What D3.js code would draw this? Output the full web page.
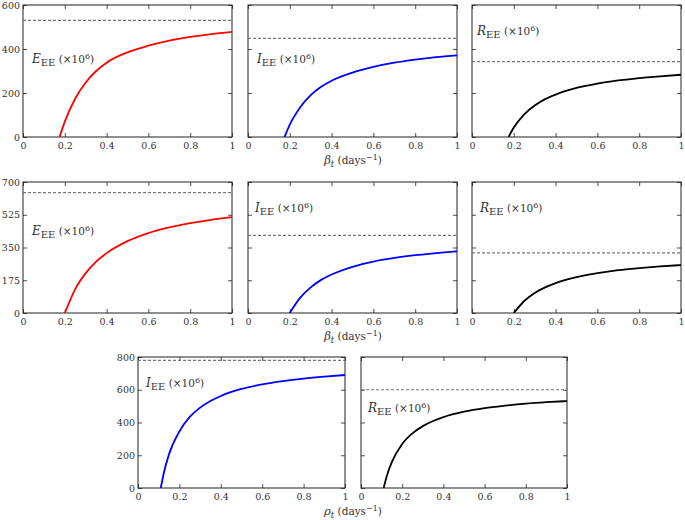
<!DOCTYPE html>
<html>
<head>
<meta charset="utf-8">
<script src="https://cdn.jsdelivr.net/npm/d3@7"></script>
<style>
  body { margin: 0; background: #fff; }
  svg text { font-family: "DejaVu Serif", serif; fill: #333; }
</style>
</head>
<body>
<svg width="685" height="520"></svg>
<script>
const svg = d3.select("svg");

// ---- data ----
const xTicks = [0, 0.2, 0.4, 0.6, 0.8, 1];
const yTicksTop = [0, 200, 400, 600];
const yTicksMid = [0, 175, 350, 525, 700];
const yTicksBot = [0, 200, 400, 600, 800];

// row 1 (beta_t)
const betaTop = [0.175, 0.2, 0.25, 0.3, 0.35, 0.4, 0.5, 0.6, 0.7, 0.8, 0.9, 1];
const eTop = [0, 70, 175, 248, 300, 338, 385, 415, 438, 455, 468, 478];
const iTop = [0, 56, 135, 190, 228, 256, 293, 319, 338, 352, 363, 371];
const rTop = [0, 43, 103, 143, 172, 193, 223, 243, 257, 268, 276, 283];
const eqTop = [530, 448, 343];

// row 2 (beta_t)
const betaMid = [0.2, 0.25, 0.3, 0.35, 0.4, 0.5, 0.6, 0.7, 0.8, 0.9, 1];
const eMid = [0, 128, 213, 274, 320, 384, 427, 457, 480, 498, 512];
const iMid = [0, 82, 137, 177, 206, 247, 275, 294, 309, 320, 330];
const rMid = [0, 64, 107, 137, 160, 192, 213, 229, 240, 249, 256];
const eqMid = [643, 415, 321];

// row 3 (rho_t)
const rhoBot = [0.11, 0.125, 0.15, 0.2, 0.25, 0.3, 0.35, 0.4, 0.5, 0.6, 0.7, 0.8, 0.9, 1];
const iBot = [0, 93, 207, 345, 434, 491, 531, 562, 605, 633, 653, 668, 680, 690];
const rBot = [0, 72, 159, 269, 334, 378, 409, 433, 466, 488, 503, 515, 524, 531];
const eqBot = [780, 600];

// ---- layout ----
const rows = [
  { top: 5, bottom: 137, ymax: 600, yTicks: yTicksTop, xs: betaTop, xlab: "β", xlabY: 164 },
  { top: 182, bottom: 313, ymax: 700, yTicks: yTicksMid, xs: betaMid, xlab: "β", xlabY: 340 },
  { top: 357, bottom: 488, ymax: 800, yTicks: yTicksBot, xs: rhoBot, xlab: "ρ", xlabY: 515 }
];

const panels = [
  { row: 0, x0: 23, x1: 232, ys: eTop, eq: eqTop[0], color: "#ff0000", sym: "E", lx: 9, ly: 58, yLabels: true },
  { row: 0, x0: 248, x1: 457, ys: iTop, eq: eqTop[1], color: "#0000ff", sym: "I", lx: 9, ly: 58 },
  { row: 0, x0: 472, x1: 681, ys: rTop, eq: eqTop[2], color: "#000000", sym: "R", lx: 5, ly: 30 },
  { row: 1, x0: 23, x1: 232, ys: eMid, eq: eqMid[0], color: "#ff0000", sym: "E", lx: 9, ly: 53, yLabels: true },
  { row: 1, x0: 248, x1: 457, ys: iMid, eq: eqMid[1], color: "#0000ff", sym: "I", lx: 7, ly: 30 },
  { row: 1, x0: 472, x1: 681, ys: rMid, eq: eqMid[2], color: "#000000", sym: "R", lx: 8, ly: 30 },
  { row: 2, x0: 138, x1: 345, ys: iBot, eq: eqBot[0], color: "#0000ff", sym: "I", lx: 8, ly: 30, yLabels: true },
  { row: 2, x0: 361, x1: 567, ys: rBot, eq: eqBot[1], color: "#000000", sym: "R", lx: 7, ly: 55 }
];

panels.forEach((p, k) => {
  const r = rows[p.row];
  const x = d3.scaleLinear().domain([0, 1]).range([p.x0, p.x1]);
  const y = d3.scaleLinear().domain([0, r.ymax]).range([r.bottom, r.top]);
  const g = svg.append("g");

  // inward ticks on all sides
  const tick = 4;
  const axes = [
    d3.axisBottom(x).tickValues(xTicks).tickSizeInner(-tick).tickSizeOuter(0)
      .tickFormat(d3.format("~g")).tickPadding(5),
    d3.axisTop(x).tickValues(xTicks).tickSizeInner(-tick).tickSizeOuter(0).tickFormat(""),
    d3.axisLeft(y).tickValues(r.yTicks).tickSizeInner(-tick).tickSizeOuter(0)
      .tickFormat(p.yLabels ? d3.format("d") : "").tickPadding(3),
    d3.axisRight(y).tickValues(r.yTicks).tickSizeInner(-tick).tickSizeOuter(0).tickFormat("")
  ];
  const pos = [`translate(0,${r.bottom})`, `translate(0,${r.top})`,
               `translate(${p.x0},0)`, `translate(${p.x1},0)`];
  axes.forEach((a, i) => {
    const ag = g.append("g").attr("transform", pos[i]).call(a);
    ag.select(".domain").remove();
    ag.selectAll("line").attr("stroke", "#222").attr("stroke-width", 0.8);
    ag.selectAll("text").style("font-family", "DejaVu Serif").style("font-size", "9.5px")
      .attr("fill", "#333");
  });

  g.append("rect")
    .attr("x", p.x0).attr("y", r.top)
    .attr("width", p.x1 - p.x0).attr("height", r.bottom - r.top)
    .attr("fill", "none").attr("stroke", "#222").attr("stroke-width", 1);

  // equilibrium (dashed)
  g.append("line")
    .attr("x1", x(0)).attr("x2", x(1))
    .attr("y1", y(p.eq)).attr("y2", y(p.eq))
    .attr("stroke", "#777").attr("stroke-width", 1.2)
    .attr("stroke-dasharray", "3,2");

  const clipId = "clip" + k;
  g.append("clipPath").attr("id", clipId).append("rect")
    .attr("x", p.x0).attr("y", r.top)
    .attr("width", p.x1 - p.x0).attr("height", r.bottom - r.top);

  const line = d3.line()
    .x((d, i) => x(r.xs[i]))
    .y(d => y(d))
    .curve(d3.curveMonotoneX);

  g.append("path")
    .datum(p.ys)
    .attr("clip-path", `url(#${clipId})`)
    .attr("d", line)
    .attr("fill", "none")
    .attr("stroke", p.color)
    .attr("stroke-width", 1.8);

  // variable label
  const t = g.append("text")
    .attr("x", p.x0 + p.lx).attr("y", r.top + p.ly);
  t.append("tspan").text(p.sym).style("font-style", "italic").style("font-size", "12px");
  t.append("tspan").text("EE").attr("dy", 3).style("font-size", "10px");
  t.append("tspan").text(" (×10").attr("dy", -3).style("font-size", "10.5px");
  t.append("tspan").text("6").attr("dy", -4.5).style("font-size", "8px");
  t.append("tspan").text(")").attr("dy", 4.5).style("font-size", "10.5px");
});

// x-axis titles
rows.forEach(r => {
  const t = svg.append("text")
    .attr("x", 353).attr("y", r.xlabY)
    .attr("text-anchor", "middle");
  t.append("tspan").text(r.xlab).style("font-style", "italic").style("font-size", "11.5px");
  t.append("tspan").text("t").attr("dy", 2.5).style("font-style", "italic").style("font-size", "8.5px");
  t.append("tspan").text(" (days").attr("dy", -2.5).style("font-size", "10.5px");
  t.append("tspan").text("−1").attr("dy", -4.5).style("font-size", "8px");
  t.append("tspan").text(")").attr("dy", 4.5).style("font-size", "10.5px");
});
</script>
</body>
</html>
